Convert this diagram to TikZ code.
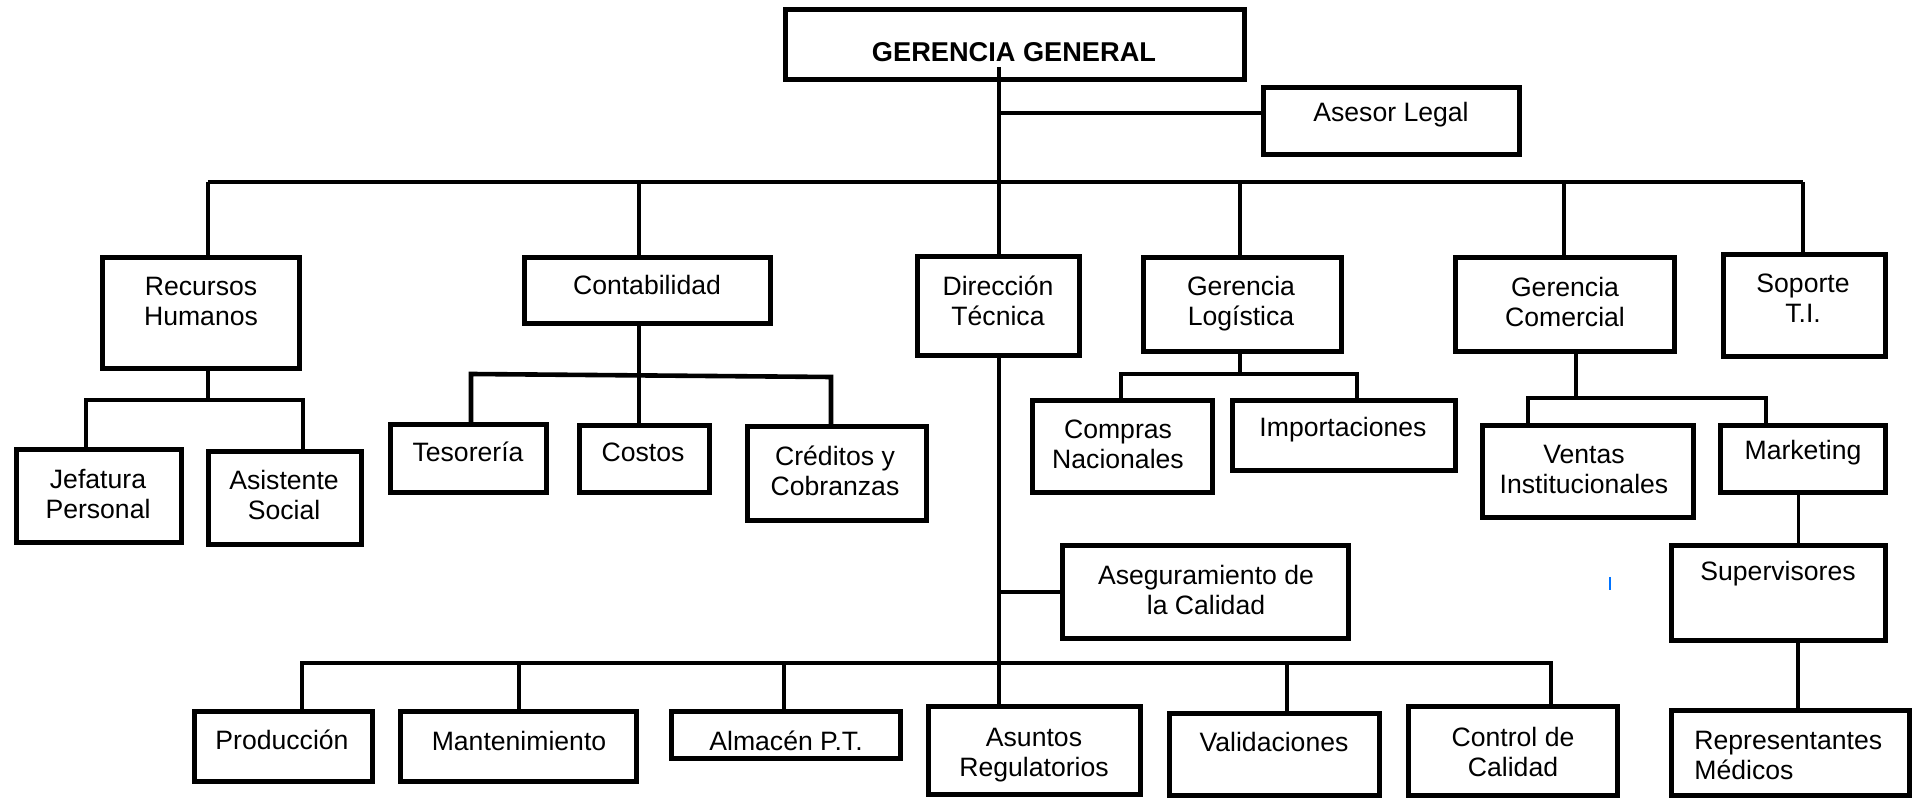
\documentclass[tikz,border=0pt]{standalone}
\usepackage{fontspec}
\setmainfont{Liberation Sans}
\newcommand\orgbox[5]{\node[box,minimum width={(#4-#2-5)*0.5},minimum height={(#5-#3-5)*0.5}] (#1) at ({(#2+#4)/2},{(#3+#5)/2}) {};}
\tikzset{
  box/.style={draw=black, line width=2.6pt, inner sep=0pt, fill=white},
  conn/.style={draw=black, line width=2.3pt},
  thinconn/.style={draw=black, line width=1.5pt},
  txt/.style={align=center, inner sep=0pt, font=\fontsize{13.3}{15}\selectfont},
}
\begin{document}
\begin{tikzpicture}[x=0.5pt,y=-0.5pt]
\useasboundingbox (0,0) rectangle (1916,801);
\fill[white] (0,0) rectangle (1916,801);

% ---------- coordinates of junctions ----------
\coordinate (t0) at (999,67);
\coordinate (j1) at (999,113);
\coordinate (b1rh) at (208,182);
\coordinate (b1ct) at (639,182);
\coordinate (b1gl) at (1240,182);
\coordinate (b1gc) at (1564,182);
\coordinate (b1sp) at (1803,182);
\coordinate (b2rh) at (208,400);
\coordinate (b2jp) at (86,400);
\coordinate (b2as) at (303,400);
\coordinate (b3te) at (471,374);
\coordinate (b3co) at (639,376);
\coordinate (b3cr) at (831,377);
\coordinate (b4gl) at (1240,374);
\coordinate (b4cn) at (1121,374);
\coordinate (b4im) at (1357,374);
\coordinate (b5gc) at (1576,398);
\coordinate (b5vi) at (1528,398);
\coordinate (b5mk) at (1766,398);
\coordinate (xsu) at (1798,500);
\coordinate (j2) at (999,592);
\coordinate (b6pr) at (302,663);
\coordinate (b6ma) at (519,663);
\coordinate (b6al) at (784,663);
\coordinate (b6va) at (1287,663);
\coordinate (b6cc) at (1551,663);

% ---------- boxes ----------
\orgbox{gg}{783}{7}{1247}{82}
\orgbox{al}{1261}{85}{1522}{157}
\orgbox{rh}{100}{255}{302}{371}
\orgbox{ct}{522}{255}{773}{326}
\orgbox{dt}{915}{254}{1082}{358}
\orgbox{gl}{1141}{255}{1344}{354}
\orgbox{gc}{1453}{255}{1677}{354}
\orgbox{sp}{1721}{252}{1888}{359}
\orgbox{jp}{14}{447}{184}{545}
\orgbox{as}{206}{449}{364}{547}
\orgbox{te}{388}{422}{549}{495}
\orgbox{co}{577}{423}{712}{495}
\orgbox{cr}{745}{424}{929}{523}
\orgbox{cn}{1030}{398}{1215}{495}
\orgbox{im}{1230}{398}{1458}{473}
\orgbox{vi}{1480}{423}{1696}{520}
\orgbox{mk}{1718}{423}{1888}{495}
\orgbox{su}{1669}{543}{1888}{643}
\orgbox{rm}{1669}{708}{1912}{798}
\orgbox{qa}{1060}{543}{1351}{641}
\orgbox{pr}{192}{709}{375}{784}
\orgbox{ma}{398}{709}{639}{784}
\orgbox{am}{669}{709}{903}{761}
\orgbox{ar}{926}{704}{1143}{797}
\orgbox{va}{1167}{711}{1382}{798}
\orgbox{cc}{1406}{704}{1620}{798}

% ---------- connectors ----------
\draw[conn] (t0) -- (t0 |- dt.north);
\draw[conn] (j1) -- (j1 -| al.west);
\draw[conn] (b1rh) -- (b1sp);
\draw[conn] (b1rh) -- (b1rh |- rh.north);
\draw[conn] (b1ct) -- (b1ct |- ct.north);
\draw[conn] (b1gl) -- (b1gl |- gl.north);
\draw[conn] (b1gc) -- (b1gc |- gc.north);
\draw[conn] (b1sp) -- (b1sp |- sp.north);
% Recursos Humanos
\draw[conn] (b2rh |- rh.south) -- (b2rh);
\draw[conn] (b2jp |- jp.north) -- (b2jp) -- (b2as) -- (b2as |- as.north);
% Contabilidad
\draw[conn] (b3co |- ct.south) -- (b3co |- co.north);
\draw[conn] (b3te |- te.north) -- (b3te) -- (b3cr) -- (b3cr |- cr.north);
% Gerencia Logistica
\draw[conn] (b4gl |- gl.south) -- (b4gl);
\draw[conn] (b4cn |- cn.north) -- (b4cn) -- (b4im) -- (b4im |- im.north);
% Gerencia Comercial
\draw[conn] (b5gc |- gc.south) -- (b5gc);
\draw[conn] (b5vi |- vi.north) -- (b5vi) -- (b5mk) -- (b5mk |- mk.north);
\draw[thinconn] (xsu |- mk.south) -- (xsu |- su.north);
\draw[conn] (xsu |- su.south) -- (xsu |- rm.north);
% Direccion Tecnica
\draw[conn] (t0 |- dt.south) -- (t0 |- ar.north);
\draw[conn] (j2) -- (j2 -| qa.west);
\draw[conn] (b6pr |- pr.north) -- (b6pr) -- (b6cc) -- (b6cc |- cc.north);
\draw[conn] (b6ma) -- (b6ma |- ma.north);
\draw[conn] (b6al) -- (b6al |- am.north);
\draw[conn] (b6va) -- (b6va |- va.north);

% ---------- texts ----------
\node[txt, font=\fontsize{13.6}{15}\selectfont\bfseries] (gg-t) at (1014,52) {GERENCIA GENERAL};
\node[txt] (al-t) at (1391,115) {Asesor Legal};
\node[txt] (rh-t) at (201,301) {Recursos\\Humanos};
\node[txt] (ct-t) at (647,285) {Contabilidad};
\node[txt] (dt-t) at (998,301) {Dirección\\Técnica};
\node[txt] (gl-t) at (1241,304) {Gerencia\\Logística};
\node[txt] (gc-t) at (1565,302) {Gerencia\\Comercial};
\node[txt] (sp-t) at (1803,298) {Soporte\\T.I.};
\node[txt] (jp-t) at (98,494) {Jefatura\\Personal};
\node[txt] (as-t) at (284,495) {Asistente\\Social};
\node[txt] (te-t) at (468,452) {Tesorería};
\node[txt] (co-t) at (643,452) {Costos};
\node[txt] (cr-t) at (835,471) {Créditos y\\Cobranzas};
\node[txt] (cn-t) at (1118,444) {Compras\\Nacionales};
\node[txt] (im-t) at (1343,430) {Importaciones};
\node[txt] (vi-t) at (1584,469) {Ventas\\Institucionales};
\node[txt] (mk-t) at (1803,453) {Marketing};
\node[txt] (su-t) at (1778,574) {Supervisores};
\node[txt, align=left, anchor=west] (rm-t) at (1694,755) {Representantes\\Médicos};
\node[txt] (qa-t) at (1206,590) {Aseguramiento de\\la Calidad};
\node[txt] (pr-t) at (282,740) {Producción};
\node[txt] (ma-t) at (519,741) {Mantenimiento};
\node[txt] (am-t) at (786,741) {Almacén P.T.};
\node[txt] (ar-t) at (1034,755) {Asuntos\\Regulatorios};
\node[txt] (va-t) at (1274,742) {Validaciones};
\node[txt] (cc-t) at (1513,752) {Control de\\Calidad};

% small blue mark
\draw[color=blue!55!cyan, line width=0.7pt] (1610,577) -- (1610,590);
\end{tikzpicture}
\end{document}
